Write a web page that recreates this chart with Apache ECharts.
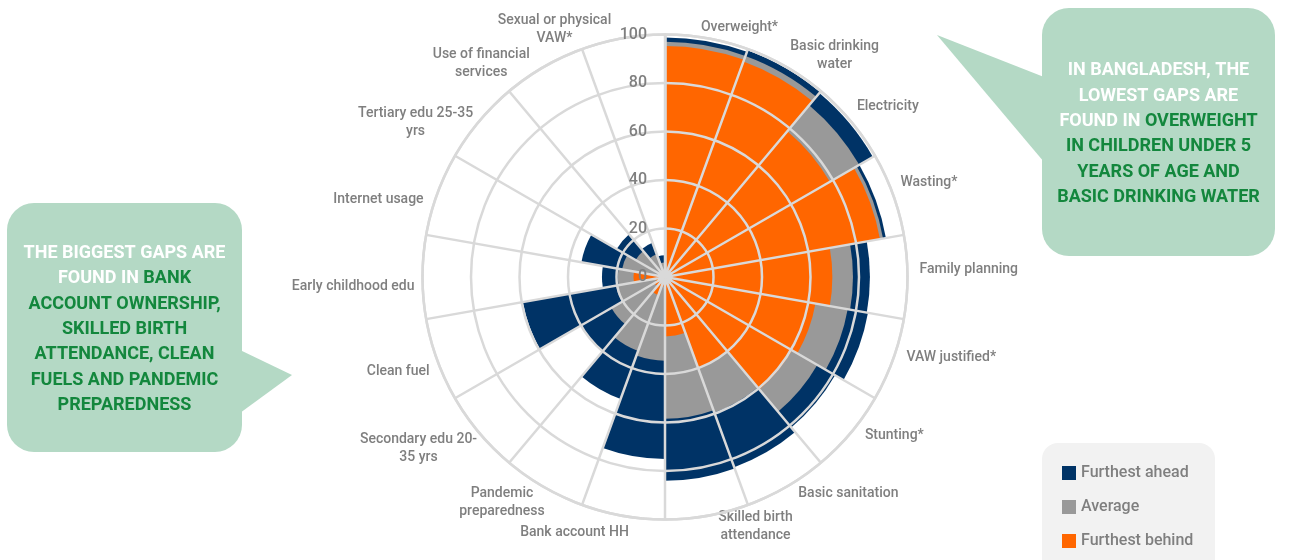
<!DOCTYPE html>
<html>
<head>
<meta charset="utf-8">
<script src="https://cdn.jsdelivr.net/npm/echarts@6/dist/echarts.min.js"></script>
<style>
  html, body { margin: 0; padding: 0; background: #fff; }
  #chart { width: 1290px; height: 560px; }
</style>
</head>
<body>
<div id="chart"></div>
<script>
// categories clockwise from 12 o'clock
const categories = ['Overweight*', 'Basic drinking\nwater', 'Electricity', 'Wasting*', 'Family planning',
  'VAW justified*', 'Stunting*', 'Basic sanitation', 'Skilled birth\nattendance', 'Bank account HH',
  'Pandemic\npreparedness', 'Secondary edu 20-\n35 yrs', 'Clean fuel', 'Early childhood edu',
  'Internet usage', 'Tertiary edu 25-35\nyrs', 'Use of financial\nservices', 'Sexual or physical\nVAW*'];
const furthestAhead = [98.8, 99.5, 99, 92.5, 84.5, 85, 81, 83.5, 84, 75, 53.5, 40, 59.5, 26, 35, 23, 15, 9];
const average = [97, 97, 92.5, 91.3, 77.5, 76.5, 72.5, 59.5, 58.5, 34.5, 32.5, 25.5, 20.5, 19.5, 18, 14, 10, 6];
const furthestBehind = [95.3, 94.6, 78.5, 90, 69, 63, 60.5, 40, 24.5, 4, 8, 5, 4, 13, 3, 2, 2, 2];
const radiusTicks = [0, 20, 40, 60, 80, 100];
const legendNames = ['Furthest ahead', 'Average', 'Furthest behind'];

// nudges for the category labels (padding: top, right, bottom, left)
const labelPad = [
  [0, 0, -6, 62], [0, 0, -13, 0], [0, 0, 0, 0], [0, 0, 0, 0], [0, 0, 16, 4],
  [-14, 0, 0, 6], [-12, 0, 0, 8], [-9, 0, 0, 8], [-15, 0, 0, 94], [0, 94, 0, 0],
  [-9, -5, 0, 0], [-8, -4, 0, 0], [0, 0, 0, 0], [18, 0, 0, 0],
  [0, 6, -17, 0], [0, 0, -25, 0], [0, 10, -21, 0], [0, 134, -17, 0]
];

const gridGray = '#d9d9d9';
const labelGray = '#7f7f7f';
const mint = '#b4d9c5';
const green = '#13873d';
const font = 'Roboto, "Open Sans", sans-serif';

let myChart = echarts.init(document.getElementById('chart'), null, { renderer: 'canvas' });

let option = {
  backgroundColor: '#fff',
  animation: false,
  polar: {
    center: [665, 277],
    radius: 242.5
  },
  angleAxis: {
    type: 'category',
    data: categories.map((c, i) => ({ value: c, textStyle: { padding: labelPad[i] } })),
    startAngle: 90,
    clockwise: true,
    z: 10,
    axisTick: { show: false },
    axisLine: { show: true, lineStyle: { color: gridGray, width: 2.5 } },
    splitLine: { show: true, lineStyle: { color: gridGray, width: 2.5 } },
    axisLabel: {
      color: labelGray,
      fontSize: 14,
      fontWeight: 500,
      fontFamily: font,
      lineHeight: 18,
      margin: 8,
      // each line centred inside its label block, as in the original
      formatter: v => v.split('\n').map(s => '{c|' + s + '}').join('\n'),
      rich: {
        c: { align: 'center', color: labelGray, fontSize: 14, fontWeight: 500, fontFamily: font, lineHeight: 18 }
      }
    }
  },
  radiusAxis: {
    min: 0,
    max: 100,
    interval: 20,
    z: 10,
    axisLine: { show: true, lineStyle: { color: gridGray, width: 2.5 } },
    axisTick: { show: false },
    splitLine: { show: true, lineStyle: { color: gridGray, width: 2.5 } },
    axisLabel: {
      color: labelGray,
      fontSize: 16,
      fontWeight: 500,
      fontFamily: font,
      margin: 18,
      formatter: v => radiusTicks.indexOf(v) >= 0 ? String(v) : ''
    }
  },
  legend: {
    orient: 'vertical',
    left: 1062,
    top: 465,
    padding: 0,
    itemGap: 18,
    itemWidth: 14,
    itemHeight: 14,
    icon: 'rect',
    z: 10,
    textStyle: { color: labelGray, fontSize: 16, fontWeight: 500, fontFamily: font },
    data: legendNames
  },
  series: [
    {
      name: legendNames[0],
      type: 'bar',
      coordinateSystem: 'polar',
      data: furthestAhead,
      barGap: '-100%',
      barCategoryGap: '0%',
      itemStyle: { color: '#003366' }
    },
    {
      name: legendNames[1],
      type: 'bar',
      coordinateSystem: 'polar',
      data: average,
      barGap: '-100%',
      barCategoryGap: '0%',
      itemStyle: { color: '#999999' }
    },
    {
      name: legendNames[2],
      type: 'bar',
      coordinateSystem: 'polar',
      data: furthestBehind,
      barGap: '-100%',
      barCategoryGap: '0%',
      itemStyle: { color: '#ff6600' }
    }
  ],
  graphic: [
    // legend box
    { type: 'rect', z: 0, shape: { x: 1042, y: 443, width: 173, height: 140, r: 16 }, style: { fill: '#f2f2f2' }, silent: true },
    // left callout
    { type: 'rect', shape: { x: 7, y: 203, width: 235, height: 249, r: 27 }, style: { fill: mint }, silent: true },
    { type: 'polygon', shape: { points: [[240, 350], [292, 375], [240, 413]] }, style: { fill: mint }, silent: true },
    {
      type: 'text', x: 124.5, y: 241, silent: true,
      style: {
        text: '{w|THE BIGGEST GAPS ARE}\n{w|FOUND IN }{g|BANK}\n{g|ACCOUNT OWNERSHIP,}\n{g|SKILLED BIRTH}\n{g|ATTENDANCE, CLEAN}\n{g|FUELS AND PANDEMIC}\n{g|PREPAREDNESS}',
        align: 'center',
        verticalAlign: 'top',
        rich: {
          w: { fill: '#ffffff', fontSize: 18, fontWeight: 'bold', fontFamily: font, lineHeight: 25.3 },
          g: { fill: green, fontSize: 18, fontWeight: 'bold', fontFamily: font, lineHeight: 25.3 }
        }
      }
    },
    // right callout
    { type: 'rect', shape: { x: 1042, y: 8, width: 233, height: 248, r: 27 }, style: { fill: mint }, silent: true },
    { type: 'polygon', shape: { points: [[1044, 77], [937, 35], [1044, 162]] }, style: { fill: mint }, silent: true },
    {
      type: 'text', x: 1158.5, y: 58, silent: true,
      style: {
        text: '{w|IN BANGLADESH, THE}\n{w|LOWEST GAPS ARE}\n{w|FOUND IN }{g|OVERWEIGHT}\n{g|IN CHILDREN UNDER 5}\n{g|YEARS OF AGE AND}\n{g|BASIC DRINKING WATER}',
        align: 'center',
        verticalAlign: 'top',
        rich: {
          w: { fill: '#ffffff', fontSize: 18, fontWeight: 'bold', fontFamily: font, lineHeight: 25.4 },
          g: { fill: green, fontSize: 18, fontWeight: 'bold', fontFamily: font, lineHeight: 25.4 }
        }
      }
    }
  ]
};

myChart.setOption(option);
</script>
</body>
</html>
